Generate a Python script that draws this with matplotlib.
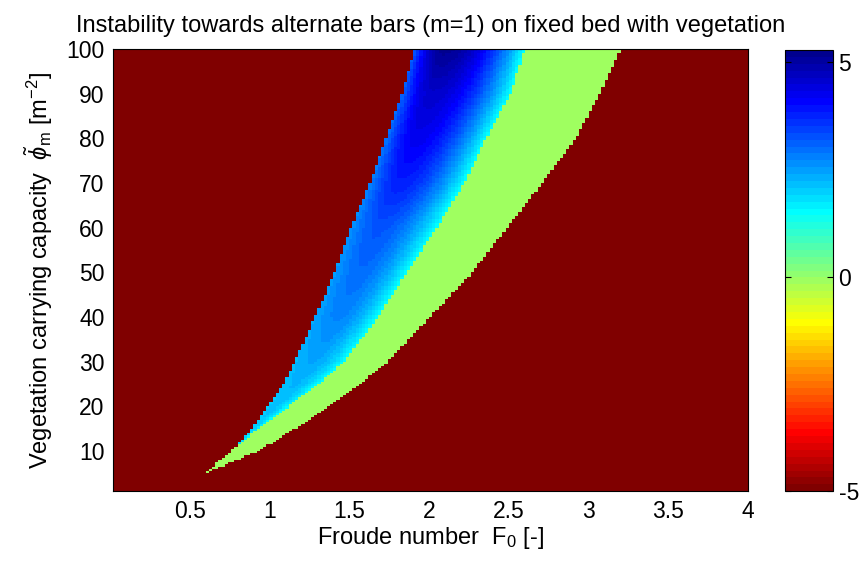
import numpy as np
import matplotlib
matplotlib.use("Agg")
import matplotlib.pyplot as plt
from matplotlib.colors import ListedColormap, Normalize

plt.rcParams['font.family'] = ['Liberation Sans', 'DejaVu Sans']
plt.rcParams['mathtext.fontset'] = 'custom'
plt.rcParams['mathtext.rm'] = 'Liberation Sans'
plt.rcParams['mathtext.it'] = 'Liberation Sans:italic'
plt.rcParams['mathtext.fallback'] = 'stixsans'
plt.rcParams['axes.unicode_minus'] = False

# ---- data ----
phi_levels = [5, 10, 15, 20, 25, 30, 40, 50, 60, 70, 80, 90, 100]
# red -> unstable boundary (left edge of coloured band)
F_left = [0.595, 0.76, 0.89, 0.99, 1.09, 1.16, 1.285, 1.41, 1.51, 1.63, 1.73, 1.83, 1.91]
# blue -> green boundary
F_mid = [0.595, 0.76, 0.93, 1.12, 1.31, 1.47, 1.68, 1.86, 2.05, 2.22, 2.36, 2.51, 2.60]
# green -> red boundary (right edge of coloured band)
F_right = [0.595, 0.93, 1.16, 1.38, 1.57, 1.74, 2.01, 2.27, 2.49, 2.71, 2.92, 3.07, 3.20]
# growth-rate values inside the blue band
v_left = [1.8, 1.8, 1.9, 2.0, 2.1, 2.2, 2.4, 2.5, 2.6, 2.75, 2.9, 3.05, 3.2]
v_peak = [1.8, 1.8, 2.0, 2.15, 2.25, 2.4, 2.75, 3.0, 3.25, 3.8, 4.25, 4.6, 5.2]
s_peak = [0.3, 0.3, 0.3, 0.3, 0.32, 0.35, 0.38, 0.35, 0.32, 0.32, 0.3, 0.28, 0.27]
v_edge = 1.45          # value at the blue/green edge (cyan)
v_green = -0.1         # green band value
v_stable = -5.0        # stable region
c_min, c_max = -5.0, 5.28

x_ticks = [0.5, 1, 1.5, 2, 2.5, 3, 3.5, 4]
x_labels = ['0.5', '1', '1.5', '2', '2.5', '3', '3.5', '4']
y_ticks = [10, 20, 30, 40, 50, 60, 70, 80, 90, 100]
cb_ticks = [-5, 0, 5]

# ---- grid ----
F_edges = np.arange(0.02, 4.0001, 0.02)
P_edges = np.arange(1.0, 100.0001, 0.5)
Fc = 0.5 * (F_edges[:-1] + F_edges[1:])
Pc = 0.5 * (P_edges[:-1] + P_edges[1:])
FF, PP = np.meshgrid(Fc, Pc)

L = np.interp(PP, phi_levels, F_left)
M = np.interp(PP, phi_levels, F_mid)
R = np.interp(PP, phi_levels, F_right)
V0 = np.interp(PP, phi_levels, v_left)
VP = np.interp(PP, phi_levels, v_peak)
SP = np.interp(PP, phi_levels, s_peak)

Z = np.full(FF.shape, v_stable)
green = (FF >= L) & (FF < R) & (PP >= 5)
Z[green] = v_green
blue = (FF >= L) & (FF < M) & (PP >= 5)
width = np.maximum(M - L, 1e-9)
S = (FF - L) / width
up = V0 + (VP - V0) * np.sin(0.5 * np.pi * np.clip(S / SP, 0, 1))
down = v_edge + (VP - v_edge) * np.cos(0.5 * np.pi * np.clip((S - SP) / (1 - SP), 0, 1))
val = np.where(S < SP, up, down)
Z[blue] = val[blue]

# MATLAB jet(64), reversed
n = 64
m = 16
u = np.concatenate([np.arange(1, m + 1) / m, np.ones(m - 1), np.arange(m, 0, -1) / m])
g = (m // 2) + np.arange(1, len(u) + 1) - 1
J = np.zeros((n, 3))
for ch, idx in ((0, g + m), (1, g), (2, g - m)):
    ok = (idx >= 0) & (idx < n)
    J[idx[ok], ch] = u[ok]
cmap = ListedColormap(J[::-1])
norm = Normalize(vmin=c_min, vmax=c_max)

fig = plt.figure(figsize=(8.63, 5.62), dpi=100)
ax = fig.add_axes([0.131, 0.126, 0.736, 0.787])
mesh = ax.pcolormesh(F_edges, P_edges, Z, cmap=cmap, norm=norm, shading='flat')
ax.set_xlim(0.02, 4.0)
ax.set_ylim(1.0, 100.0)
ax.set_xticks(x_ticks)
ax.set_xticklabels(x_labels)
ax.set_yticks(y_ticks)
ax.tick_params(length=0, labelsize=16.5, pad=6)
for sp in ax.spines.values():
    sp.set_linewidth(0.8)
ax.set_title('Instability towards alternate bars (m=1) on fixed bed with vegetation',
             fontsize=17, pad=12)
ax.set_xlabel(r'Froude number  $\mathrm{F}_\mathrm{0}$ [-]', fontsize=17, labelpad=2)
ax.set_ylabel(r'Vegetation carrying capacity  $\tilde{\phi}_\mathrm{m}$ [m$^{-2}$]',
              fontsize=17, labelpad=8)

cax = fig.add_axes([0.9096, 0.126, 0.0556, 0.785])
cb = fig.colorbar(mesh, cax=cax, ticks=cb_ticks)
cb.ax.tick_params(direction='in', left=True, right=True, length=4, labelsize=16.5, pad=4)
cb.outline.set_linewidth(0.8)

fig.savefig('out.png', dpi=100)
